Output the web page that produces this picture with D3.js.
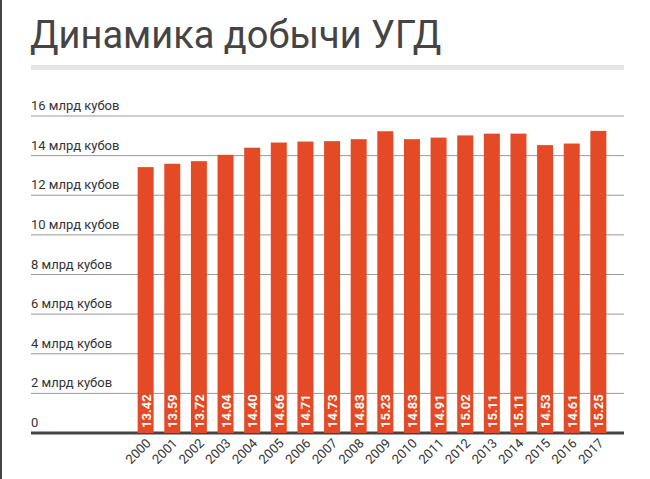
<!DOCTYPE html>
<html><head><meta charset="utf-8">
<script src="https://cdn.jsdelivr.net/npm/d3@7"></script>
<style>body{margin:0;background:#fff}</style>
</head><body><svg id="chart" width="650" height="479"></svg>
<script>
let years = ["2000","2001","2002","2003","2004","2005","2006","2007","2008","2009","2010","2011","2012","2013","2014","2015","2016","2017"]
let values = [13.42,13.59,13.72,14.04,14.40,14.66,14.71,14.73,14.83,15.23,14.83,14.91,15.02,15.11,15.11,14.53,14.61,15.25]
let ticks = [0,2,4,6,8,10,12,14,16]
let tickLabels = ["0","2 млрд кубов","4 млрд кубов","6 млрд кубов","8 млрд кубов","10 млрд кубов","12 млрд кубов","14 млрд кубов","16 млрд кубов"]

let svg = d3.select("#chart")
svg.append("line").attr("x1",1).attr("x2",1).attr("y1",0).attr("y2",479).attr("stroke","#444").attr("stroke-width",2)

svg.append("text").attr("x",30).attr("y",48).text("Динамика добычи УГД")
    .attr("font-family","Roboto").attr("font-size",38).attr("fill","#444")
svg.append("rect").attr("x",31).attr("y",65).attr("width",593).attr("height",5).attr("fill","#e6e6e6")

let y = d3.scaleLinear().domain([0,16]).range([433,116])
let x = d3.scaleBand().domain(years).range([127,617]).padding(0.4)

let grid = svg.selectAll(".grid").data(ticks).enter().append("g")
grid.append("line").attr("x1",31).attr("x2",624).attr("y1",d=>y(d)).attr("y2",d=>y(d))
    .attr("stroke",d=>d==0?"#444":"#999").attr("stroke-width",d=>d==0?3:1)
grid.append("text").attr("x",31).attr("y",d=>y(d)-6).text((d,i)=>tickLabels[i])
    .attr("font-family","Roboto").attr("font-size",13).attr("fill","#333")

svg.selectAll("rect.bar").data(values).enter().append("rect").attr("class","bar")
    .attr("x",(d,i)=>x(years[i])).attr("width",x.bandwidth())
    .attr("y",d=>y(d)).attr("height",d=>y(0)-y(d)).attr("fill","#e34a25")

svg.selectAll("text.val").data(values).enter().append("text").attr("class","val")
    .attr("transform",(d,i)=>"translate("+(x(years[i])+x.bandwidth()/2+5)+",428) rotate(-90)")
    .text(d=>d.toFixed(2)).attr("font-family","Roboto").attr("font-weight","bold")
    .attr("font-size",13).attr("fill","#fff")

svg.selectAll("text.yr").data(years).enter().append("text").attr("class","yr")
    .attr("transform",d=>"translate("+(x(d)+x.bandwidth()/2+6)+",444) rotate(-45)")
    .attr("text-anchor","end").text(d=>d)
    .attr("font-family","Roboto").attr("font-size",13).attr("fill","#333")
</script></body></html>
